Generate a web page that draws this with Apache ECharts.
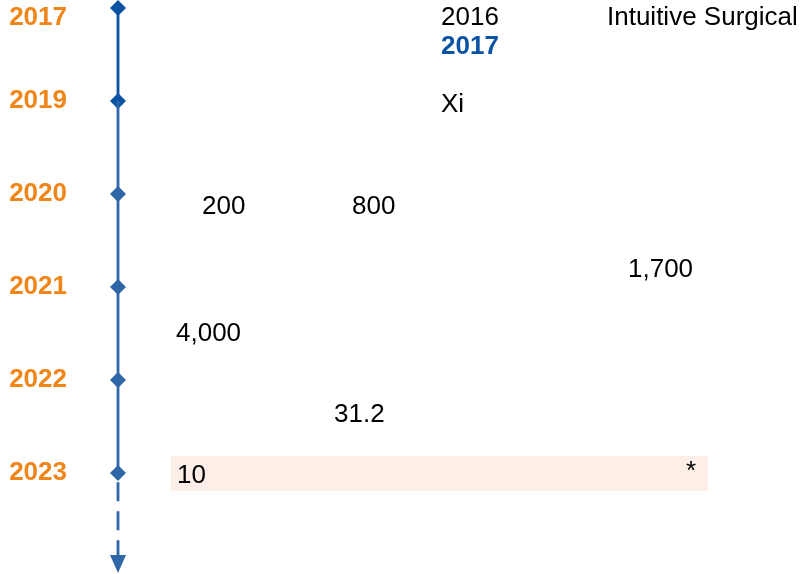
<!DOCTYPE html>
<html>
<head>
<meta charset="utf-8">
<script src="https://cdn.jsdelivr.net/npm/echarts@6/dist/echarts.min.js"></script>
<style>
  html, body { margin: 0; padding: 0; background: #fff; }
  #chart { width: 807px; height: 574px; }
</style>
</head>
<body>
<div id="chart"></div>
<script>
// timeline rows (one row per milestone year)
var years = ['2017', '2019', '2020', '2021', '2022', '2023']
var yearRows = [0, 1, 2, 3, 4, 5]

// notes placed next to the timeline: text, column (px from left), row
var noteText = ['2016', '2017', 'Intuitive Surgical', 'Xi', '200', '800', '1,700', '4,000', '31.2', '10', '*']
var noteCol = [441, 441, 607, 441, 202, 352, 628, 176, 334, 177, 686]
var noteRow = [0.11, 0.42, 0.11, 1.045, 2.14, 2.14, 2.815, 3.505, 4.375, 5.03, 4.99]
var noteBold = [false, true, false, false, false, false, false, false, false, false, false]

// highlighted band on the 2023 row
var bandCols = [171, 708]
var bandRows = [4.817, 5.194]

var LINE_X = 118
var DARK = '#0a52a3'
var MID = '#2f66a8'
var ORANGE = '#f08519'
var FONT = 'Liberation Sans, Arial, sans-serif'

function drawTimeline(dom) {
  var chart = echarts.init(dom, null, { renderer: 'canvas' })

  var points = yearRows.map(function(r, i) {
    return {
      value: [LINE_X, r],
      itemStyle: { color: i < 2 ? DARK : MID },
      label: i === 0 ? { offset: [0, 10] } : {}
    }
  })

  var notes = noteText.map(function(t, i) {
    return {
      name: t,
      value: [noteCol[i], noteRow[i]],
      label: noteBold[i] ? { color: DARK, fontWeight: 'bold' } : {}
    }
  })

  var lastRow = yearRows[yearRows.length - 1]

  chart.setOption({
    animation: false,
    grid: { left: 0, right: 0, top: 8, bottom: 0 },
    xAxis: { type: 'value', min: 0, max: 807, show: false },
    yAxis: { type: 'value', min: 0, max: 6.086, inverse: true, show: false },
    series: [
      {
        // pink band behind the 2023 row
        type: 'line',
        data: [],
        markArea: {
          silent: true,
          itemStyle: { color: '#fdeee7', opacity: 1 },
          data: [[{ coord: [bandCols[0], bandRows[0]] }, { coord: [bandCols[1], bandRows[1]] }]]
        }
      },
      {
        type: 'line',
        data: yearRows.slice(1).map(function(r) { return [LINE_X, r] }),
        showSymbol: false,
        lineStyle: { color: MID, width: 2.8, opacity: 1 }
      },
      {
        type: 'line',
        data: yearRows.slice(0, 2).map(function(r) { return [LINE_X, r] }),
        showSymbol: false,
        lineStyle: { color: DARK, width: 2.8, opacity: 1 }
      },
      {
        // dashed continuation
        type: 'line',
        data: [[LINE_X, lastRow + 0.1], [LINE_X, lastRow + 0.9]],
        showSymbol: false,
        lineStyle: { color: MID, width: 2.8, opacity: 1, type: [19, 10] }
      },
      {
        // arrow head
        type: 'scatter',
        data: [[LINE_X, lastRow + 0.978]],
        symbol: 'triangle',
        symbolRotate: 180,
        symbolSize: [16, 18],
        itemStyle: { color: MID, opacity: 1 }
      },
      {
        type: 'scatter',
        data: points,
        symbol: 'diamond',
        symbolSize: 16,
        itemStyle: { opacity: 1 },
        label: {
          show: true,
          position: 'left',
          distance: 43,
          color: ORANGE,
          fontWeight: 'bold',
          fontSize: 26,
          fontFamily: FONT,
          formatter: function(p) { return years[p.dataIndex] }
        }
      },
      {
        type: 'scatter',
        data: notes,
        symbolSize: 0,
        itemStyle: { opacity: 1 },
        label: {
          show: true,
          position: [0, 0],
          align: 'left',
          verticalAlign: 'middle',
          color: '#000',
          fontSize: 26,
          fontFamily: FONT,
          formatter: '{b}'
        }
      }
    ]
  })
}

drawTimeline(document.getElementById('chart'))
</script>
</body>
</html>
